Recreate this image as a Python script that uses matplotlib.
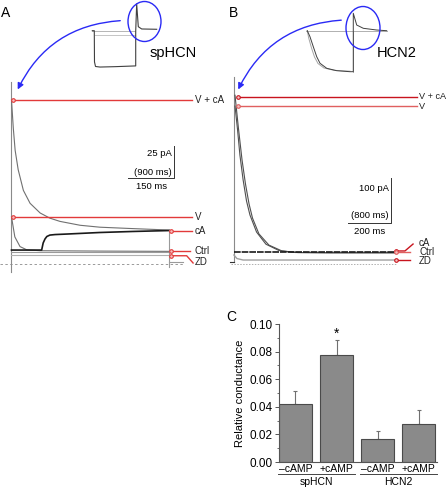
import numpy as np
import matplotlib.pyplot as plt
import matplotlib.transforms as mtransforms
from matplotlib.patches import Ellipse, FancyArrowPatch

plt.rcParams['font.family'] = ['Liberation Sans', 'DejaVu Sans']

W, H = 448, 490

# ================= 数据 =================
# A: spHCN 尾电流, 时间 (ms) / 电流 (pA)
spA_vca_t = [0, 6, 12, 22, 39, 61, 94, 126, 159, 225, 290, 389, 518]
spA_vca_i = [127, 105, 88, 73, 57, 47, 39.5, 35.5, 33, 30, 28.5, 27.5, 26.3]
spA_v_t = [0, 11, 28, 50, 94, 300, 518]
spA_v_i = [36.5, 21, 13.5, 11, 10.3, 10, 9.8]
spA_ca_t = [0, 99, 104, 110, 116, 126, 143, 182, 290, 399, 518]
spA_ca_i = [10.8, 10.8, 16.3, 19.4, 21.3, 22.4, 22.8, 23.2, 24.4, 25.2, 25.9]
spA_ctrl_t = [0, 518]
spA_ctrl_i = [9.0, 9.0]
spA_zd_t = [0, 518]
spA_zd_i = [7.0, 7.0]

# A 插图: spHCN 全程 (ms / pA)
spA_full_t = [-39, 0, 4, 24, 112, 408, 816, 816, 835, 867, 934, 1229]
spA_full_i = [0, 0, -165, -189, -192, -190, -186, -2, 141, 21, 9, 7.4]

# B: HCN2 尾电流 (ms / pA)
h2_vca_t = [7, 23, 40, 56, 73, 89, 119, 166, 227, 302, 452, 759]
h2_vca_i = [375, 302, 231, 178, 133, 102, 67, 42, 29, 25.5, 25, 25]
h2_v_t = [7, 19, 30, 45, 61, 77, 108, 152, 213, 288, 452, 759]
h2_v_i = [351, 298, 242, 187, 140, 109, 71, 44, 30, 25.6, 25, 25]
h2_ctrl_t = [0, 759]
h2_ctrl_i = [26, 26]
h2_zd_t = [2, 16, 45, 759]
h2_zd_i = [20, 12.2, 8.9, 8.9]

# B 插图: HCN2 全程 (ms / pA)
h2_full1_t = [0, 50, 112, 176, 238, 363, 550, 799, 860, 860, 924, 1047, 1298, 1485]
h2_full1_i = [0, -132, -352, -572, -717, -827, -880, -902, -902, 383, 125, 53, 15, 0]
h2_full2_t = [0, 26, 79, 135, 200, 312, 499, 799]
h2_full2_i = [0, -161, -381, -579, -722, -821, -871, -891]

# C: 相对电导
cond_labels = ["\u2013cAMP", "+cAMP", "\u2013cAMP", "+cAMP"]
cond_mean = [0.042, 0.0775, 0.0168, 0.0272]
cond_err = [0.0095, 0.0108, 0.0058, 0.0105]
groups = ["spHCN", "HCN2"]
group_bars = [(0, 1), (2, 3)]

# ================= 画布 =================
fig = plt.figure(figsize=(W / 100, H / 100), dpi=100)
pix = mtransforms.Affine2D().scale(1 / W, -1 / H).translate(0, 1) + fig.transFigure


def px_axes(x0, y0, x1, y1):
    ax = fig.add_axes([x0 / W, 1 - y1 / H, (x1 - x0) / W, (y1 - y0) / H])
    ax.set_axis_off()
    return ax


GRAY = '#9a9a9a'
DGRAY = '#707070'
BLACK = '#1a1a1a'
BLUE = '#2a2af5'


def red_tag(ax, xs, ys, color, label, lx, ly, fs=7):
    ax.plot(xs, ys, color=color, lw=1.0, zorder=5)
    ax.plot(xs[0], ys[0], 'o', ms=2.6, mfc='#f6c0c0', mec=color, mew=0.8, zorder=6)
    ax.text(lx, ly, label, ha='left', va='center', fontsize=fs, color='#222')


def scale_bar(ax, x, y, dx, dy, ylab, paren, xlab):
    ax.plot([x - dx, x, x], [y, y, y + dy], color='#333', lw=0.7)
    ax.annotate(ylab, (x, y + 0.78 * dy), xytext=(-1.5, 0), textcoords='offset points',
                ha='right', va='center', fontsize=6.8)
    ax.annotate(paren, (x, y + 0.18 * dy), xytext=(-1.5, 0), textcoords='offset points',
                ha='right', va='center', fontsize=6.8)
    ax.annotate(xlab, (x - dx / 2, y), xytext=(0, -6), textcoords='offset points',
                ha='center', va='center', fontsize=6.8)


# ---------------- Panel A 主图 ----------------
axA = px_axes(0, 75, 200, 275)
axA.set_xlim(-37.7, 618.7)
axA.set_ylim(-8.5, 146.3)
axA.plot([-37.7, 562], [0, 0], ls=(0, (2.5, 2.5)), color='#9a9a9a', lw=0.7)
axA.plot([0, 0], [-6.2, 141], color='#8a8a8a', lw=0.8)
axA.plot(spA_zd_t, spA_zd_i, color='#b0b0b0', lw=0.8)
axA.plot(spA_ctrl_t, spA_ctrl_i, color=GRAY, lw=0.8)
axA.plot(spA_v_t, spA_v_i, color=DGRAY, lw=0.8)
axA.plot(spA_vca_t, spA_vca_i, color=DGRAY, lw=0.8)
axA.plot(spA_ca_t, spA_ca_i, color=BLACK, lw=1.2)
axA.plot([spA_vca_t[-1]] * 2, [spA_vca_i[-1], -2.1], color=GRAY, lw=0.8)
axA.plot([spA_vca_t[-1], 562], [1.8, 1.8], color=GRAY, lw=0.8)

RED_A = '#e23a3a'
red_tag(axA, [6.6, 593], [spA_vca_i[0]] * 2, RED_A, 'V + cA', 602, spA_vca_i[0])
red_tag(axA, [6.6, 593], [spA_v_i[0]] * 2, RED_A, 'V', 602, spA_v_i[0])
red_tag(axA, [523, 593], [spA_ca_i[-1]] * 2, RED_A, 'cA', 602, spA_ca_i[-1])
red_tag(axA, [523, 587], [10.4, 10.4], RED_A, 'Ctrl', 602, 10.1)
red_tag(axA, [523, 575, 596], [6.4, 6.4, 0.8], RED_A, 'ZD', 602, 1.5)
scale_bar(axA, 533.3, 66.3, 150, 25, '25 pA', '(900 ms)', '150 ms')

# ---------------- Panel A 插图 ----------------
axAi = px_axes(85, 0, 165, 75)
axAi.set_xlim(-183, 1393)
axAi.set_ylim(-234, 162)
axAi.plot([-39, 802], [0, 0], color='#b5b5b5', lw=0.7)
axAi.plot([14, 802], [-22.7, -22.7], color='#c5c5c5', lw=0.7)
axAi.plot(spA_full_t, spA_full_i, color='#404040', lw=0.8)

# ---------------- Panel B 主图 ----------------
axB = px_axes(222, 75, 448, 275)
axB.set_xlim(-53.9, 1004.7)
axB.set_ylim(-24.4, 420)
axB.plot([-13, 760], [0, 0], ls=(0, (1.5, 1.5)), color='#b0b0b0', lw=0.7)
axB.plot([0, 0], [4.4, 415.5], color='#8a8a8a', lw=0.8)
axB.plot([-16.4, 0], [4.4, 4.4], color='#333', lw=0.8)
axB.plot(h2_zd_t, h2_zd_i, color='#a0a0a0', lw=1.0)
axB.plot(h2_v_t, h2_v_i, color='#505050', lw=0.8)
axB.plot(h2_vca_t, h2_vca_i, color='#505050', lw=0.8)
axB.plot(h2_ctrl_t, h2_ctrl_i, color=BLACK, lw=1.2, ls=(0, (4, 0.6)))

RED_B1 = '#c8141e'
RED_B2 = '#e06060'
red_tag(axB, [21, 859], [370.4, 370.4], RED_B1, 'V + cA', 869, 373.3, fs=6.6)
red_tag(axB, [21, 859], [351.7, 351.7], RED_B2, 'V', 869, 349.5, fs=6.6)
red_tag(axB, [761, 803, 841], [29, 29, 44.4], RED_B1, 'cA', 869, 46.7)
red_tag(axB, [761, 827], [26.5, 26.5], RED_B2, 'Ctrl', 869, 25.6)
red_tag(axB, [761, 827], [8.9, 8.9], RED_B1, 'ZD', 869, 5.6)
scale_bar(axB, 736.3, 90.4, 200, 100, '100 pA', '(800 ms)', '200 ms')

# ---------------- Panel B 插图 ----------------
axBi = px_axes(300, 0, 390, 85)
axBi.set_xlim(-136.5, 1546.5)
axBi.set_ylim(-1194.6, 675.4)
axBi.plot([-24, 1485], [0, 0], color='#b0b0b0', lw=0.7)
axBi.plot([860, 860], [0, -902], color='#b0b0b0', lw=0.7)
axBi.plot(h2_full2_t, h2_full2_i, color='#a5a5a5', lw=0.7)
axBi.plot(h2_full1_t, h2_full1_i, color='#404040', lw=0.7)

# ---------------- 蓝色圈与箭头 ----------------
for (cx, cy, w, h), (p0, p1) in [((144.5, 21.5, 33, 40), ((123, 20.5), (16.5, 92))),
                                 ((363, 28, 34, 43), ((344, 20), (237, 92)))]:
    fig.add_artist(Ellipse((cx, cy), w, h, transform=pix, fill=False,
                           edgecolor=BLUE, lw=1.0))
    fig.add_artist(FancyArrowPatch(p0, p1, transform=pix, connectionstyle='arc3,rad=0.3',
                                   arrowstyle='-|>', mutation_scale=9, color=BLUE, lw=1.0))

fig.text(173, 53, 'spHCN', transform=pix, ha='center', va='center', fontsize=10.5)
fig.text(397, 53, 'HCN2', transform=pix, ha='center', va='center', fontsize=10.5)
fig.text(0.5, 13.3, 'A', transform=pix, ha='left', va='center', fontsize=10)
fig.text(229, 13.3, 'B', transform=pix, ha='left', va='center', fontsize=10)
fig.text(226.7, 316.7, 'C', transform=pix, ha='left', va='center', fontsize=10)

# ---------------- Panel C 柱状图 ----------------
axC = fig.add_axes([279 / W, 1 - 462 / H, (437 - 279) / W, (462 - 324) / H])
xpos = np.arange(len(cond_mean))
axC.bar(xpos, cond_mean, width=0.8, color='#8a8a8a', edgecolor='#4a4a4a', lw=0.8, zorder=2)
axC.errorbar(xpos, cond_mean, yerr=[np.zeros(len(cond_err)), cond_err], fmt='none',
             ecolor='#707070', elinewidth=0.8, capsize=1.2, capthick=0.8, zorder=1)
axC.text(1, cond_mean[1] + cond_err[1] + 0.0045, '*', ha='center', va='center', fontsize=10)
axC.set_xlim(-0.402, 3.45)
axC.set_ylim(0, 0.10)
axC.set_yticks(np.arange(0, 0.101, 0.02))
axC.set_yticks(np.arange(0.01, 0.1, 0.02), minor=True)
axC.yaxis.set_major_formatter(plt.FormatStrFormatter('%.2f'))
axC.set_xticks(xpos, cond_labels)
axC.tick_params(axis='x', length=0, pad=1.5, labelsize=7.5)
axC.tick_params(axis='y', which='major', length=3, width=0.7, pad=1.5, labelsize=8.5, color='#555')
axC.tick_params(axis='y', which='minor', length=1.5, width=0.6, color='#555')
axC.set_ylabel('Relative conductance', fontsize=8, labelpad=3)
for s in ['top', 'right']:
    axC.spines[s].set_visible(False)
for s in ['left', 'bottom']:
    axC.spines[s].set_linewidth(0.8)
    axC.spines[s].set_color('#555')

trans = mtransforms.blended_transform_factory(axC.transData, axC.transAxes)
for name, (b0, b1) in zip(groups, group_bars):
    axC.plot([b0 - 0.42, b1 + 0.45], [-0.085, -0.085], transform=trans,
             color='#444', lw=0.7, clip_on=False)
    axC.text((b0 + b1) / 2, -0.143, name, transform=trans, ha='center', va='center',
             fontsize=7.5)

fig.savefig('out.png', dpi=100)
